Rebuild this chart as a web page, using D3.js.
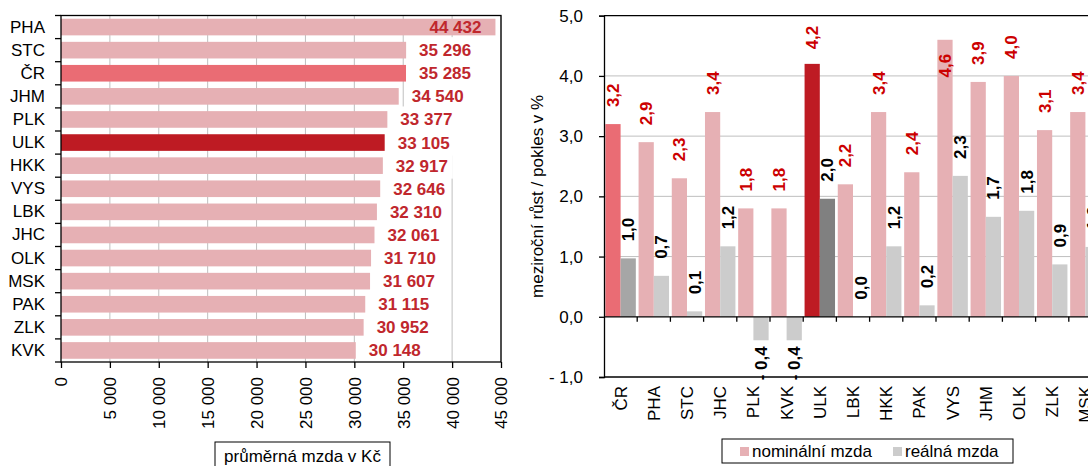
<!DOCTYPE html>
<html>
<head>
<meta charset="utf-8">
<script src="https://cdn.jsdelivr.net/npm/d3@7"></script>
<style>
  body { margin: 0; overflow: hidden; background: #fff; }
  svg { display: block; font-family: Arial, "Liberation Sans", sans-serif; }
</style>
</head>
<body>
<svg id="svg" width="1088" height="466"></svg>
<script>
// average wage by region (left chart)
const wageRegions = ["PHA", "STC", "ČR", "JHM", "PLK", "ULK", "HKK", "VYS", "LBK", "JHC", "OLK", "MSK", "PAK", "ZLK", "KVK"];
const wageValues = [44432, 35296, 35285, 34540, 33377, 33105, 32917, 32646, 32310, 32061, 31710, 31607, 31115, 30952, 30148];
const wageTicks = [0, 5000, 10000, 15000, 20000, 25000, 30000, 35000, 40000, 45000];

// year-on-year growth (right chart)
const growthRegions = ["ČR", "PHA", "STC", "JHC", "PLK", "KVK", "ULK", "LBK", "HKK", "PAK", "VYS", "JHM", "OLK", "ZLK", "MSK"];
const nominalGrowth = [3.2, 2.9, 2.3, 3.4, 1.8, 1.8, 4.2, 2.2, 3.4, 2.4, 4.6, 3.9, 4.0, 3.1, 3.4];
const realGrowth = [0.97, 0.68, 0.09, 1.17, -0.39, -0.39, 1.96, 0.0, 1.17, 0.19, 2.34, 1.66, 1.76, 0.87, 1.16];
const growthTicks = [-1, 0, 1, 2, 3, 4, 5];
const seriesNames = ["nominální mzda", "reálná mzda"];

const pink = "#e6b0b4", gray = "#cccccc";
function nomColor(c) { return c == "ČR" ? "#ea6c74" : c == "ULK" ? "#be1b23" : pink; }
function realColor(c) { return c == "ČR" ? "#a6a6a6" : c == "ULK" ? "#808080" : gray; }

let svg = d3.select("svg");
let fmtThousands = v => d3.format(",")(v).replace(/,/g, " ");
let fmtPct = v => v < 0 ? "- " + (-v).toFixed(1).replace(".", ",") : v.toFixed(1).replace(".", ",");

// ---------- left chart ----------
let L = { left: 61, right: 501, top: 15.5, bottom: 362 };
let x = d3.scaleLinear().domain([0, 45000]).range([L.left, L.right]);
let y = d3.scaleBand().domain(wageRegions).range([L.top, L.bottom]).paddingInner(0.28).paddingOuter(0.14);
let gL = svg.append("g");

gL.append("g").selectAll("line").data(wageTicks.slice(1)).enter().append("line")
  .attr("x1", d => x(d)).attr("x2", d => x(d))
  .attr("y1", L.top).attr("y2", L.bottom)
  .attr("stroke", "#bfbfbf").attr("stroke-width", 1);

gL.append("g").selectAll("rect").data(wageRegions).enter().append("rect")
  .attr("x", L.left)
  .attr("y", d => y(d))
  .attr("width", (d, i) => x(wageValues[i]) - L.left)
  .attr("height", y.bandwidth())
  .attr("fill", d => nomColor(d));

// value labels with white boxes
let lab = gL.append("g");
wageRegions.forEach((c, i) => {
  let g = lab.append("g");
  let box = g.append("rect").attr("fill", "#fff");
  let t = g.append("text")
    .attr("y", y(c) + y.bandwidth() / 2)
    .attr("dy", "0.35em")
    .attr("font-size", 17).attr("font-weight", "bold")
    .attr("fill", "#c0272d")
    .text(fmtThousands(wageValues[i]));
  let len = t.node().getComputedTextLength();
  let end = x(wageValues[i]);
  let tx = end + 13;
  if (tx + len > L.right) {
    tx = end - 14 - len;
    box.remove();
  } else {
    box.attr("x", tx - 5).attr("width", len + 10)
      .attr("y", y(c) + y.bandwidth() / 2 - 13).attr("height", 26);
  }
  t.attr("x", tx);
});

// frame
gL.append("rect").attr("x", L.left).attr("y", L.top)
  .attr("width", L.right - L.left).attr("height", L.bottom - L.top)
  .attr("fill", "none").attr("stroke", "#000").attr("stroke-width", 1.3);

// left axis: labels + boundary ticks
let yAxis = gL.append("g").attr("transform", "translate(" + L.left + ",0)")
  .call(d3.axisLeft(y).tickSize(0).tickPadding(16));
yAxis.select(".domain").remove();
yAxis.selectAll("text").attr("font-size", 17).attr("fill", "#000").attr("font-family", null);
let step = y.step();
gL.append("g").selectAll("line").data(d3.range(wageRegions.length + 1)).enter().append("line")
  .attr("x1", L.left - 6).attr("x2", L.left)
  .attr("y1", i => L.top + i * step).attr("y2", i => L.top + i * step)
  .attr("stroke", "#000").attr("stroke-width", 1.3);

let xAxis = gL.append("g").attr("transform", "translate(0," + L.bottom + ")")
  .call(d3.axisBottom(x).tickValues(wageTicks).tickSize(6).tickFormat(fmtThousands));
xAxis.select(".domain").remove();
xAxis.selectAll("line").attr("stroke", "#000").attr("stroke-width", 1.3);
xAxis.selectAll("text")
  .attr("font-size", 17).attr("fill", "#000").attr("font-family", null)
  .attr("transform", "rotate(-90)")
  .attr("x", -15).attr("y", 0).attr("dy", "0.35em")
  .attr("text-anchor", "end");

// axis title box
let xt = svg.append("g");
xt.append("rect").attr("x", 215).attr("y", 442).attr("width", 175).attr("height", 30)
  .attr("fill", "#fff").attr("stroke", "#000").attr("stroke-width", 1);
xt.append("text").attr("x", 302.5).attr("y", 462).attr("text-anchor", "middle")
  .attr("font-size", 17).text("průměrná mzda v Kč");

// ---------- right chart ----------
let R = { left: 604, top: 15.7, bottom: 377, step: 33.2 };
let xc = d3.scaleBand().domain(growthRegions)
  .range([R.left, R.left + growthRegions.length * R.step]).padding(0);
let xs = d3.scaleBand().domain(["nom", "real"]).range([0, xc.bandwidth()]).paddingInner(0).paddingOuter(0.09);
let yr = d3.scaleLinear().domain([-1, 5]).range([R.bottom, R.top]);
let R_right = R.left + growthRegions.length * R.step;
let gR = svg.append("g");

gR.append("g").selectAll("line").data([1, 2, 3, 4]).enter().append("line")
  .attr("x1", R.left).attr("x2", R_right)
  .attr("y1", d => yr(d)).attr("y2", d => yr(d))
  .attr("stroke", "#bfbfbf").attr("stroke-width", 1);

let cats = gR.append("g").selectAll("g").data(growthRegions).enter().append("g")
  .attr("transform", d => "translate(" + xc(d) + ",0)");
cats.append("rect")
  .attr("x", xs("nom")).attr("width", xs.bandwidth())
  .attr("y", (d, i) => yr(Math.max(0, nominalGrowth[i])))
  .attr("height", (d, i) => Math.abs(yr(nominalGrowth[i]) - yr(0)))
  .attr("fill", d => nomColor(d));
cats.append("rect")
  .attr("x", xs("real")).attr("width", xs.bandwidth())
  .attr("y", (d, i) => yr(Math.max(0, realGrowth[i])))
  .attr("height", (d, i) => Math.abs(yr(realGrowth[i]) - yr(0)))
  .attr("fill", d => realColor(d));

// rotated value labels
function barLabel(cx, v, color) {
  let t = gR.append("text")
    .attr("font-size", 17).attr("font-weight", "bold").attr("fill", color)
    .attr("dy", "0.35em")
    .text(fmtPct(v));
  let len = t.node().getComputedTextLength();
  if (v >= 0) {
    let top = yr(v);
    let start = top - 17;
    if (start - len < R.top + 10) start = R.top + 10 + len;
    if (start > top) start = top + 14 + len;
    t.attr("text-anchor", "start")
      .attr("transform", "translate(" + cx + "," + start + ") rotate(-90)");
  } else {
    let bottom = yr(v);
    t.attr("text-anchor", "end")
      .attr("transform", "translate(" + cx + "," + (bottom + 6) + ") rotate(-90)");
  }
}
growthRegions.forEach((c, i) => {
  barLabel(xc(c) + xs("nom") + xs.bandwidth() / 2, nominalGrowth[i], "#cc0000");
  barLabel(xc(c) + xs("real") + xs.bandwidth() / 2, realGrowth[i], "#000");
});

// axes lines
gR.append("line").attr("x1", R.left).attr("x2", R_right).attr("y1", R.top).attr("y2", R.top)
  .attr("stroke", "#000").attr("stroke-width", 1.3);
gR.append("line").attr("x1", R.left).attr("x2", R_right).attr("y1", R.bottom).attr("y2", R.bottom)
  .attr("stroke", "#000").attr("stroke-width", 1.3);
gR.append("line").attr("x1", R.left).attr("x2", R_right).attr("y1", yr(0)).attr("y2", yr(0))
  .attr("stroke", "#000").attr("stroke-width", 1.3);
gR.append("g").selectAll("line").data(d3.range(1, growthRegions.length + 1)).enter().append("line")
  .attr("x1", i => R.left + i * R.step).attr("x2", i => R.left + i * R.step)
  .attr("y1", yr(0)).attr("y2", yr(0) + 5)
  .attr("stroke", "#000").attr("stroke-width", 1.3);

let yrAxis = gR.append("g").attr("transform", "translate(" + R.left + ",0)")
  .call(d3.axisLeft(yr).tickValues(growthTicks).tickSize(5).tickPadding(16).tickFormat(fmtPct));
yrAxis.select(".domain").attr("stroke", "#000").attr("stroke-width", 1.3);
yrAxis.selectAll("line").attr("stroke", "#000").attr("stroke-width", 1.3);
yrAxis.selectAll("text").attr("font-size", 17).attr("fill", "#000").attr("font-family", null);

let xcAxis = gR.append("g").attr("transform", "translate(0," + R.bottom + ")")
  .call(d3.axisBottom(xc).tickSize(0));
xcAxis.select(".domain").remove();
xcAxis.selectAll("text")
  .attr("font-size", 17).attr("fill", "#000").attr("font-family", null)
  .attr("transform", "rotate(-90)")
  .attr("x", -9).attr("y", 0).attr("dy", "0.35em")
  .attr("text-anchor", "end");

svg.append("text")
  .attr("transform", "translate(543," + ((R.top + R.bottom) / 2) + ") rotate(-90)")
  .attr("text-anchor", "middle").attr("font-size", 17)
  .text("meziroční růst / pokles v %");

// legend
let lg = svg.append("g");
lg.append("rect").attr("x", 722).attr("y", 439).attr("width", 291).attr("height", 24)
  .attr("fill", "#fff").attr("stroke", "#000").attr("stroke-width", 1);
let legendX = [740, 893];
[pink, gray].forEach((col, i) => {
  lg.append("rect").attr("x", legendX[i]).attr("y", 447).attr("width", 9).attr("height", 9).attr("fill", col);
  lg.append("text").attr("x", legendX[i] + 12).attr("y", 451).attr("dy", "0.35em")
    .attr("font-size", 17).text(seriesNames[i]);
});
</script>
</body>
</html>
